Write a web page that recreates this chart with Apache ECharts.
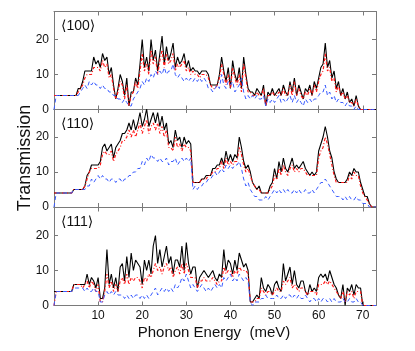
<!DOCTYPE html>
<html>
<head>
<meta charset="utf-8">
<script src="https://cdn.jsdelivr.net/npm/echarts@6/dist/echarts.min.js"></script>
<style>
  html, body { margin: 0; padding: 0; background: #fff; }
  #chart { width: 415px; height: 351px; }
</style>
</head>
<body>
<div id="chart"></div>
<script>
// phonon energy grid, meV (0 .. 73 in 0.5 steps)
const energyStep = 0.5
const energyMax = 73

// panel names
const panelLabels = ['\u27E8100\u27E9', '\u27E8110\u27E9', '\u27E8111\u27E9']

// <100>
const p100Black = [
  4,4,4,4,4,4,4,4,4,4, 4,6,6,8,11,11,11,11,15,13,
  14,12,16,14,15,10,12,7,3,6, 10,8,4,9,1,5,5,9,7,13,
  20,12,15,11,20,14,17,11,16,21, 13,18,14,16,19,12,15,13,14,16,
  12,14,11,12,11,11,10,11,11,11, 10,7,7,7,7,10,15,11,8,12,
  6,14,10,8,12,6,15,10,6,5, 5,4,6,5,4,7,1,5,4,6,
  4,5,6,4,7,5,4,8,5,9, 4,7,5,3,6,5,7,4,8,6,
  9,12,13,19,12,14,9,11,6,8, 4,6,3,5,2,3,1,4,1,0,
  0,0,0,0,0,0,0
]
const p100Red = [
  4,4,4,4,4,4,4,4,4,4, 4,5,6,7,9,10,10,10,12,12,
  12,11,14,12,13,9,10,6,3,5, 8,7,3,7,1,4,5,8,6,11,
  16,11,13,10,17,13,15,10,14,17, 12,16,13,14,16,11,13,12,13,14,
  11,12,10,11,10,10,9,10,10,10, 9,7,6,6,7,9,13,10,7,10,
  6,12,9,7,10,5,13,9,5,5, 4,4,5,4,4,6,1,4,4,5,
  4,4,5,4,6,4,4,7,4,8, 4,6,4,3,5,4,6,4,7,5,
  8,10,11,16,11,12,8,9,5,7, 4,5,3,4,2,2,1,3,1,0,
  0,0,0,0,0,0,0
]
const p100Blue = [
  0,4,4,4,4,4,4,4,4,4, 4,4,5,6,7,6,8,7,8,7,
  7,6,7,6,6,5,5,4,4,3, 3,2,3,2,1,1,3,4,5,6,
  8,7,9,8,10,9,11,10,11,10, 12,10,11,11,13,10,9,10,9,8,
  9,8,9,8,9,8,9,8,9,8, 6,6,5,6,7,6,10,7,6,8,
  7,8,5,6,7,9,5,3,4,3, 4,3,4,3,3,4,1,3,2,3,
  2,3,4,2,3,2,3,4,2,4, 2,3,2,1,3,2,3,2,3,3,
  4,5,5,7,4,5,3,4,2,3, 2,2,1,2,1,1,0,1,0,0,
  0,0,0,0,0,0,0
]

// <110>
const p110Black = [
  4,4,4,4,4,4,4,4,4,5, 5,5,5,5,6,9,10,12,12,12,
  12,13,17,18,16,17,18,14,17,18, 19,21,21,22,24,22,25,22,24,27,
  23,25,28,23,25,27,24,27,23,26, 22,24,18,19,17,22,19,20,17,20,
  18,19,18,7,7,7,7,8,8,9, 9,9,11,11,12,12,14,12,16,13,
  15,13,15,14,20,17,13,11,12,10, 7,6,5,6,4,4,4,4,6,7,
  11,8,13,10,14,11,10,12,14,11, 12,11,12,13,11,10,9,10,9,10,
  16,18,20,23,20,16,14,10,8,7, 7,7,7,8,10,9,11,10,10,7,
  5,3,3,1,0,0,0
]
const p110Red = [
  4,4,4,4,4,4,4,4,4,5, 5,5,5,5,6,8,10,11,11,11,
  11,12,15,16,15,15,16,13,15,16, 17,19,19,20,22,20,22,20,22,24,
  21,23,25,21,23,24,22,24,21,23, 20,22,17,17,16,20,17,18,16,18,
  17,17,16,7,7,7,7,8,8,8, 9,9,10,10,11,11,13,11,14,12,
  13,12,13,13,17,15,12,10,11,9, 7,6,5,5,4,4,4,4,5,6,
  9,8,11,9,12,10,9,11,12,10, 11,10,11,11,10,9,9,9,9,9,
  14,16,17,20,18,15,12,9,7,7, 7,7,7,7,9,8,10,9,9,6,
  4,3,2,1,0,0,0
]
const p110Blue = [
  0,4,4,4,4,4,4,4,4,5, 5,5,5,5,5,6,6,8,7,8,
  9,8,9,8,8,7,8,8,7,8, 8,7,8,8,9,9,10,10,11,11,
  13,12,14,13,15,14,14,13,14,13, 13,14,12,13,13,14,12,13,14,13,
  14,13,14,5,6,5,6,6,7,7, 8,8,9,10,9,10,11,10,12,11,
  12,11,12,12,13,11,8,6,7,5, 4,3,3,2,2,2,3,2,3,4,
  5,4,5,4,5,4,5,4,4,5, 4,5,4,4,5,4,4,5,4,5,
  6,7,7,8,7,6,5,4,3,3, 3,2,3,2,3,2,2,3,2,2,
  1,1,1,0,0,0,0
]

// <111>
const p111Black = [
  4,4,4,4,4,4,4,4,4,6, 6,6,6,6,6,9,6,8,7,5,
  8,2,2,5,16,6,9,5,8,4, 11,12,7,14,8,15,10,13,12,11,
  6,13,10,13,9,17,20,12,16,11, 14,17,12,14,9,13,13,11,17,10,
  18,12,9,11,11,5,8,9,10,9, 8,9,10,8,7,9,8,16,10,13,
  12,9,13,10,15,13,11,12,10,1, 1,2,3,2,8,5,4,6,5,3,
  6,7,5,4,12,7,9,11,6,10, 6,5,7,7,4,3,6,4,5,4,
  8,9,8,9,7,10,8,6,5,3, 2,6,0,5,4,6,3,6,5,5,
  0,0,0,0,0,0,0
]
const p111Red = [
  0,4,4,4,4,4,4,4,4,6, 6,6,6,5,6,7,5,7,6,4,
  6,1,1,4,9,5,7,4,6,4, 7,8,6,9,6,8,7,8,8,7,
  5,8,7,9,8,10,12,10,11,9, 11,12,10,11,8,10,11,9,12,9,
  12,10,8,8,8,5,7,7,8,7, 7,7,8,7,6,7,7,11,9,10,
  10,8,10,9,11,10,10,10,9,1, 1,1,2,2,5,4,3,4,4,3,
  4,5,4,4,7,6,7,8,5,6, 5,4,5,5,4,3,4,4,4,3,
  6,6,6,7,6,7,6,5,4,3, 2,4,1,4,3,4,2,4,4,4,
  0,0,0,0,0,0,0
]
const p111Blue = [
  0,4,4,4,4,4,4,4,4,5, 5,5,5,5,4,5,4,4,5,4,
  4,1,1,3,4,3,4,3,4,3, 3,3,2,3,2,3,2,3,3,2,
  3,2,3,2,3,4,5,3,4,5, 4,5,4,5,4,6,5,6,8,7,
  9,7,5,6,5,4,5,6,5,4, 5,4,5,6,5,6,5,8,7,8,
  9,7,8,7,9,8,7,8,7,1, 0,1,1,1,2,2,3,2,2,2,
  2,3,2,2,3,2,3,3,2,3, 2,3,2,2,3,2,1,2,2,1,
  2,1,2,2,1,2,1,2,1,1, 1,2,1,1,2,1,1,2,1,1,
  0,0,0,0,0,0,0
]

const panels = [
  { black: p100Black, red: p100Red, blue: p100Blue },
  { black: p110Black, red: p110Red, blue: p110Blue },
  { black: p111Black, red: p111Red, blue: p111Blue },
]

const FONT = '"Liberation Sans", "DejaVu Sans", Arial, sans-serif'
const AXIS_GRAY = '#7a7a7a'

const panelTops = [11.5, 109, 207.5]
const panelHeight = 98
const plotLeft = 54
const plotWidth = 322

const toPairs = (vals) => vals.map((v, i) => [i * energyStep, v])

const tick10 = (v) => (v % 10 === 0 ? String(v) : '')

const grids = []
const xAxes = []
const yAxes = []
const series = []
const texts = []

panels.forEach((p, i) => {
  grids.push({ left: plotLeft, top: panelTops[i], width: plotWidth, height: panelHeight })

  const xBase = {
    gridIndex: i,
    type: 'value',
    min: 0,
    max: energyMax,
    interval: 10,
    axisLine: { onZero: false, lineStyle: { color: AXIS_GRAY, width: 1 } },
    axisTick: { inside: true, length: 4, lineStyle: { color: AXIS_GRAY } },
    splitLine: { show: false },
  }
  xAxes.push({
    ...xBase,
    position: 'bottom',
    axisLabel: {
      show: i === 2,
      margin: 4,
      color: '#111',
      fontSize: 12,
      fontFamily: FONT,
      formatter: (v) => (v === 0 || v % 10 !== 0 ? '' : String(v)),
    },
  })
  xAxes.push({ ...xBase, position: 'top', axisLabel: { show: false } })

  const yBase = {
    gridIndex: i,
    type: 'value',
    min: 0,
    max: 28,
    interval: 10,
    axisLine: { onZero: false, lineStyle: { color: AXIS_GRAY, width: 1 } },
    axisTick: { inside: true, length: 4, lineStyle: { color: AXIS_GRAY } },
    splitLine: { show: false },
  }
  yAxes.push({
    ...yBase,
    position: 'left',
    axisLabel: { margin: 5, color: '#111', fontSize: 12, fontFamily: FONT, formatter: tick10 },
  })
  yAxes.push({ ...yBase, position: 'right', axisLabel: { show: false } })

  const common = {
    type: 'line',
    xAxisIndex: 2 * i,
    yAxisIndex: 2 * i,
    symbol: 'none',
    silent: true,
  }
  series.push({ ...common, data: toPairs(p.black), lineStyle: { color: '#000', width: 1.1 } })
  series.push({
    ...common,
    data: toPairs(p.red),
    lineStyle: { color: '#ff1a1a', width: 1.2, type: [3, 2, 1, 2] },
  })
  series.push({
    ...common,
    data: toPairs(p.blue),
    lineStyle: { color: '#3a5cff', width: 1, type: [4, 3] },
  })

  texts.push({
    type: 'text',
    left: 61,
    top: panelTops[i] + 8,
    style: { text: panelLabels[i], font: '14px ' + FONT, fill: '#111' },
  })
})

// axis titles
texts.push({
  type: 'text',
  x: 25,
  y: 158,
  rotation: Math.PI / 2,
  style: {
    text: 'Transmission',
    font: '18px ' + FONT,
    fill: '#111',
    textAlign: 'center',
    textVerticalAlign: 'middle',
  },
})
texts.push({
  type: 'text',
  x: 214,
  y: 333,
  style: {
    text: 'Phonon Energy  (meV)',
    font: '15px ' + FONT,
    fill: '#111',
    textAlign: 'center',
    textVerticalAlign: 'middle',
  },
})

const chart = echarts.init(document.getElementById('chart'), null, { renderer: 'canvas' })
chart.setOption({
  animation: false,
  backgroundColor: '#fff',
  grid: grids,
  xAxis: xAxes,
  yAxis: yAxes,
  series: series,
  graphic: texts,
})
</script>
</body>
</html>
